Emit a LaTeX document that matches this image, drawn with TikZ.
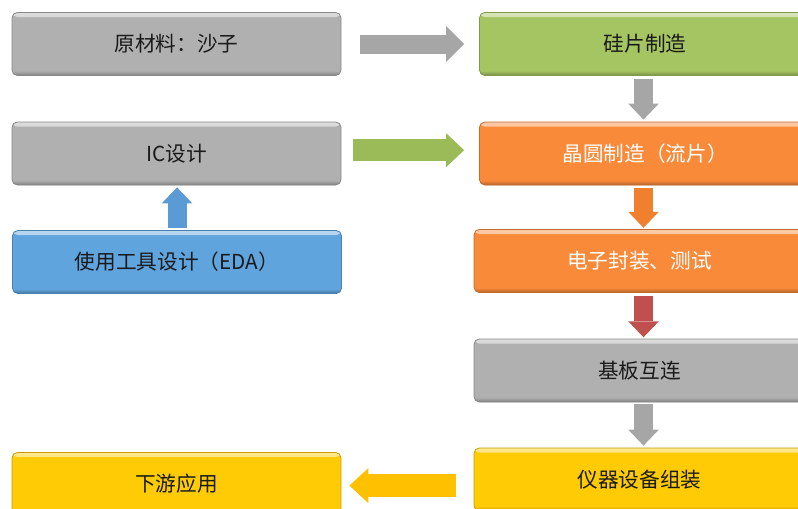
\documentclass[tikz,border=0pt]{standalone}
\usepackage{fontspec}
\newfontfamily\cjk{Noto Sans CJK SC}
\usetikzlibrary{arrows.meta}
\definecolor{bgray}{HTML}{B0B0B0}
\definecolor{bgreen}{HTML}{A5C462}
\definecolor{borange}{HTML}{F88A3A}
\definecolor{bblue}{HTML}{60A4DE}
\definecolor{byellow}{HTML}{FFCB05}
\definecolor{agray}{HTML}{A6A6A6}
\definecolor{agreen}{HTML}{9BBB59}
\definecolor{aorange}{HTML}{F07F2E}
\definecolor{ablue}{HTML}{5B9BD5}
\definecolor{ared}{HTML}{C0504D}
\definecolor{ayellow}{HTML}{FFC000}
\definecolor{txt}{HTML}{1A1A1A}
\tikzset{
  box/.style={rounded corners=4pt, fill=#1, draw=#1!78!black, line width=0.6pt,
    inner sep=0pt, minimum height=47.25pt,
    font=\cjk\fontsize{15.5}{18}\selectfont, text=txt,
    path picture={
      \shade[top color=white!55!#1, bottom color=#1]
        (path picture bounding box.north west) rectangle ([yshift=-3.5pt]path picture bounding box.north east);
      \shade[top color=#1, bottom color=#1!72!black]
        ([yshift=3.5pt]path picture bounding box.south west) rectangle (path picture bounding box.south east);
    }},
  leftbox/.style={box=#1, minimum width=246.75pt},
  rightbox/.style={box=#1, minimum width=248.25pt},
  blockarrow/.style={draw=#1, line width=14.25pt,
    -{Triangle[width=23pt, length=12pt, line width=0pt, fill=#1]}},
}
\begin{document}
\begin{tikzpicture}[x=0.75pt, y=-0.75pt]
\useasboundingbox (0,0) rectangle (798,508);
\clip (0,0) rectangle (798,508);
% boxes
\node[leftbox=bgray] (raw) at (176.5,44) {原材料：沙子};
\node[rightbox=bgreen] (wafer) at (645,44) {硅片制造};
\node[leftbox=bgray] (ic) at (176.5,153.5) {IC设计};
\node[rightbox=borange, text=white] (fab) at (645,153.5) {晶圆制造（流片）};
\node[leftbox=bblue] (eda) at (177,262) {使用工具设计（EDA）};
\node[rightbox=borange, text=white] (pkg) at (639.5,261) {电子封装、测试};
\node[rightbox=bgray] (sub) at (639.5,370.5) {基板互连};
\node[rightbox=byellow] (inst) at (639.5,479.5) {仪器设备组装};
\node[leftbox=byellow] (down) at (176.5,484) {下游应用};
\coordinate (col) at (643.5,0);
% connectors
\draw[blockarrow=agray, line width=14.25pt, -{Triangle[width=27pt, length=13.5pt, line width=0pt, fill=agray]},
  shorten <=14.25pt, shorten >=11.25pt] (raw.east) -- (wafer.west);
\draw[blockarrow=agreen, line width=16.5pt, -{Triangle[width=25.5pt, length=13.5pt, line width=0pt, fill=agreen]},
  shorten <=9pt, shorten >=11.25pt] ([yshift=2.5pt]ic.east) -- ([yshift=2.5pt]fab.west);
\draw[blockarrow=agray, shorten <=2.25pt, shorten >=1.5pt] (col |- wafer.south) -- (col |- fab.north);
\draw[blockarrow=aorange, shorten <=2pt, shorten >=1pt] (col |- fab.south) -- (col |- pkg.north);
\draw[blockarrow=ared, shorten <=2pt, shorten >=1pt] (col |- pkg.south) -- (col |- sub.north);
\draw[blockarrow=agray, shorten <=1.5pt, shorten >=1.5pt] (col |- sub.south) -- (col |- inst.north);
\draw[blockarrow=ablue, shorten <=1.5pt, shorten >=1.5pt] (eda.north) -- (eda.north |- ic.south);
\draw[blockarrow=ayellow, line width=17.25pt, -{Triangle[width=26.25pt, length=14.25pt, line width=0pt, fill=ayellow]},
  shorten <=13.5pt, shorten >=6pt] ([yshift=-1.2pt]down.east -| inst.west) -- ([yshift=-1.2pt]down.east);
\end{tikzpicture}
\end{document}
